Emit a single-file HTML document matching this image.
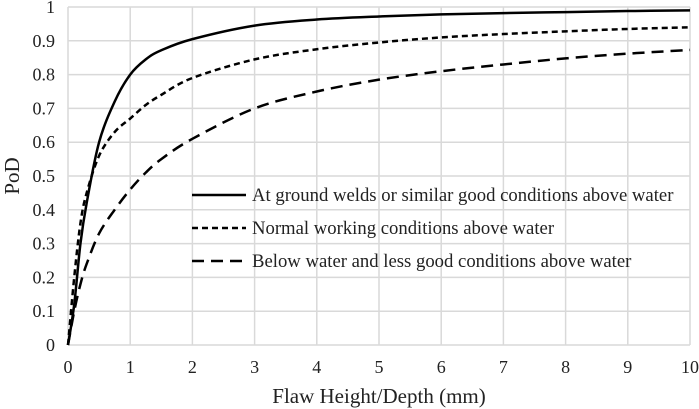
<!DOCTYPE html>
<html><head><meta charset="utf-8"><style>
body{margin:0;background:#fff}
svg{display:block;font-family:"Liberation Serif",serif}
</style></head><body>
<svg id="c" width="699" height="409"></svg>
<script>
const xs=[0,0.1,0.2,0.3,0.5,0.75,1,1.25,1.5,2,3,4,5,6,7,8,9,10];
const solid=[0,0.12,0.3,0.42,0.6,0.72,0.8,0.845,0.872,0.905,0.945,0.963,0.972,0.978,0.982,0.985,0.988,0.99];
const shortDash=[0,0.2,0.36,0.45,0.56,0.63,0.67,0.71,0.74,0.79,0.845,0.875,0.895,0.91,0.92,0.928,0.935,0.94];
const longDash=[0,0.1,0.18,0.24,0.33,0.4,0.46,0.51,0.55,0.61,0.7,0.75,0.785,0.81,0.83,0.848,0.862,0.873];
const xTicks=[0,1,2,3,4,5,6,7,8,9,10];
const yTicks=[0,0.1,0.2,0.3,0.4,0.5,0.6,0.7,0.8,0.9,1];
const labels=["At ground welds or similar good conditions above water","Normal working conditions above water","Below water and less good conditions above water"];
const X0=68,X1=690,Y0=345,Y1=7;
const sx=v=>X0+(X1-X0)*v/10, sy=v=>Y0-(Y0-Y1)*v;
const svg=document.getElementById('c');const NS='http://www.w3.org/2000/svg';
function mk(t,a,txt){const e=document.createElementNS(NS,t);for(const k in a)e.setAttribute(k,a[k]);if(txt!==undefined)e.textContent=txt;svg.appendChild(e);return e;}
xTicks.forEach(t=>{const g=mk('line',{x1:sx(t),x2:sx(t),y1:Y1,y2:Y0,stroke:'#d9d9d9','stroke-width':1.5});


const l=mk('text',{x:sx(t),y:373,'text-anchor':'middle','font-size':18,fill:'#222'},t);

});
yTicks.forEach(t=>{const g=mk('line',{x1:X0,x2:X1,y1:sy(t),y2:sy(t),stroke:'#d9d9d9','stroke-width':1.5});


const l=mk('text',{x:55,y:sy(t)+6,'text-anchor':'end','font-size':18,fill:'#222'},t);

});
function path(ys){const p=xs.map((x,i)=>[sx(x),sy(ys[i])]);let d=`M${p[0][0]},${p[0][1]}`;
for(let i=0;i<p.length-1;i++){const a=p[Math.max(0,i-1)],b=p[i],c=p[i+1],e=p[Math.min(p.length-1,i+2)];
d+=` C${b[0]+(c[0]-a[0])/6},${b[1]+(c[1]-a[1])/6} ${c[0]-(e[0]-b[0])/6},${c[1]-(e[1]-b[1])/6} ${c[0]},${c[1]}`;}return d;}
const series=[[solid,'none','series-ground-welds'],[shortDash,'6,4','series-normal-conditions'],[longDash,'12,7','series-below-water']];
series.forEach((s,i)=>{const p=mk('path',{d:path(s[0]),fill:'none',stroke:'#000','stroke-width':2.5,'stroke-dasharray':s[1]});


const ly=195+i*33;
const l=mk('line',{x1:192,x2:246,y1:ly,y2:ly,stroke:'#000','stroke-width':2.5,'stroke-dasharray':s[1]});


const t=mk('text',{x:252,y:ly+6,'font-size':18.7,fill:'#222'},labels[i]);

});
const xt=mk('text',{x:379,y:403,'text-anchor':'middle','font-size':21,fill:'#222'},'Flaw Height/Depth (mm)');


const yt=mk('text',{x:0,y:0,'text-anchor':'middle','font-size':21,fill:'#222',transform:'translate(19,176) rotate(-90)'},'PoD');


</script>
</body></html>
